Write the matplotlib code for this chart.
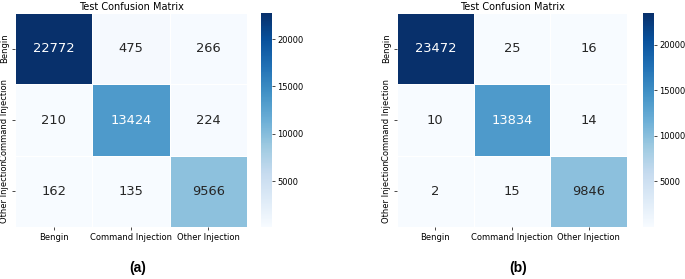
import matplotlib
matplotlib.use("Agg")
import matplotlib.pyplot as plt
import seaborn as sns
import numpy as np

labels = ["Bengin", "Command Injection", "Other Injection"]
cm_a = [[22772, 475, 266],
        [210, 13424, 224],
        [162, 135, 9566]]
cm_b = [[23472, 25, 16],
        [10, 13834, 14],
        [2, 15, 9846]]
title = "Test Confusion Matrix"
panel_labels = ["(a)", "(b)"]

W, H = 685, 279
fig = plt.figure(figsize=(W / 100, H / 100), dpi=100)

def fx(px):
    return px / W

def fy(py):
    return 1 - py / H

panels = [
    (cm_a, 15, 247, 261, 272, 138),
    (cm_b, 397, 627, 643, 654, 518),
]
top, bot = 13, 227
for (cm, x0, x1, c0, c1, lx), lab in zip(panels, panel_labels):
    ax = fig.add_axes([fx(x0), fy(bot), fx(x1 - x0), (bot - top) / H])
    cax = fig.add_axes([fx(c0), fy(bot), fx(c1 - c0), (bot - top) / H])
    sns.heatmap(np.array(cm), annot=True, fmt="d", cmap="Blues", ax=ax, cbar_ax=cax,
                xticklabels=labels, yticklabels=labels, linewidths=0.5, linecolor="white",
                annot_kws={"fontsize": 9.4})
    ax.set_title(title, fontsize=7, pad=2)
    ax.tick_params(axis="both", labelsize=6, length=2, width=0.5, pad=2)
    ax.set_yticklabels(labels, rotation=90, va="center", fontsize=6)
    ax.set_xticklabels(labels, rotation=0, fontsize=6)
    cax.tick_params(labelsize=6, length=2, width=0.5, pad=2)
    for s in cax.spines.values():
        s.set_visible(False)
    fig.text(fx(lx), fy(268), lab, ha="center", va="center", fontsize=10,
             fontweight="bold", family="Liberation Sans")

fig.savefig("out.png", dpi=100)
